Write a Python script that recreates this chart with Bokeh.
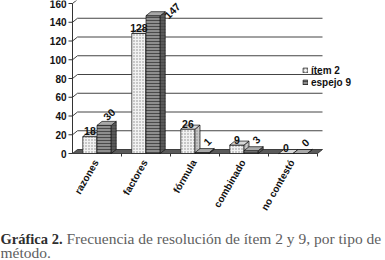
import numpy as np
from bokeh.plotting import figure
from bokeh.models import Range1d, Legend, LegendItem, ColumnDataSource
from bokeh.core.properties import value
from bokeh.embed import file_html
from bokeh.resources import INLINE

categories = ["razones", "factores", "fórmula", "combinado", "no contestó"]
item2 = [18, 128, 26, 9, 0]
espejo9 = [30, 147, 1, 3, 0]
y_ticks = [0, 20, 40, 60, 80, 100, 120, 140, 160]
series_names = ["ítem 2", "espejo 9"]
caption_bold = "Gráfica 2."
caption_line1 = "Frecuencia de resolución de ítem 2 y 9, por tipo de"
caption_line2 = "método."

W, H = 385, 260
ORIG_X, ORIG_Y = 72, 153     # pixel position of the chart origin
PX_X = 49.0                  # px per category
PX_Y = 150 / 160             # px per value unit
DX = 5 / PX_X                # 3-D depth offset
DY = 4 / PX_Y
BW = 0.29
SANS = value("Liberation Sans")
SERIF = value("Liberation Serif")

x0 = -ORIG_X / PX_X
y1 = ORIG_Y / PX_Y
y0 = -(H - ORIG_Y) / PX_Y
p = figure(width=W, height=H, output_backend="svg", toolbar_location=None,
           x_range=Range1d(x0, (W - ORIG_X) / PX_X), y_range=Range1d(y0, y1),
           min_border=0, x_axis_type=None, y_axis_type=None)
p.outline_line_color = None
p.xgrid.visible = False
p.ygrid.visible = False

n = len(categories)
centers = np.arange(n) + 0.5

# back wall grid lines
xs, ys = [], []
for v in y_ticks[1:]:
    xs.append([0, DX, n + DX])
    ys.append([v, v + DY, v + DY])
p.multi_line(xs, ys, line_color="#444", line_width=1)

# floor
p.patch([0, n, n + DX, DX], [0, 0, DY, DY], fill_color="#5a5a5a", line_color="#222", line_width=0.8)

def draw_bars(vals, left, front, hatch, hcol, side, top):
    vals = np.array(vals, dtype=float)
    right = left + BW
    src = ColumnDataSource(dict(left=left, right=right, top=vals, bottom=np.zeros_like(vals)))
    r = p.quad(left="left", right="right", bottom="bottom", top="top", source=src,
               fill_color=front, hatch_pattern=hatch, hatch_color=hcol, hatch_scale=3,
               hatch_weight=1, line_color="#111", line_width=0.7)
    sx = [[ri, ri + DX, ri + DX, ri] for ri in right]
    sy = [[0, DY, v + DY, v] for v in vals]
    p.patches(sx, sy, fill_color=side, hatch_pattern=hatch, hatch_color=hcol, hatch_scale=3,
              line_color="#111", line_width=0.7)
    tx = [[li, ri, ri + DX, li + DX] for li, ri in zip(left, right)]
    ty = [[v, v, v + DY, v + DY] for v in vals]
    p.patches(tx, ty, fill_color=top, line_color="#111", line_width=0.7)
    return r

r1 = draw_bars(item2, centers - BW, "#f2f2f2", "dot", "#8a8a8a", "#c8c8c8", "#d8d8d8")
r2 = draw_bars(espejo9, centers, "#8e8e8e", "horizontal_line", "#4a4a4a", "#5a5a5a", "#a8a8a8")

# value labels
iv = np.array(item2, dtype=float)
p.text(x=centers - BW / 2, y=iv + DY + 1.5 / PX_Y, text=[str(v) for v in item2],
       text_font=SANS, text_font_style="bold", text_font_size="10.5px",
       text_align="center", text_baseline="alphabetic", text_color="#111")
ev = np.array(espejo9, dtype=float)
natural = ev + 11 / PX_Y
over = natural > 152
lab_x = centers + BW / 2 + np.where(over, 19, 5) / PX_X
lab_y = np.where(over, ev + 5 / PX_Y, natural)
p.text(x=lab_x, y=lab_y, text=[str(v) for v in espejo9], angle=np.pi / 4,
       text_font=SANS, text_font_style="bold", text_font_size="10.5px",
       text_align="center", text_baseline="middle", text_color="#111")

# value axis
p.segment(x0=[0], y0=[0], x1=[0], y1=[y_ticks[-1]], line_color="#333", line_width=1)
yt = np.array(y_ticks, dtype=float)
p.segment(x0=np.zeros_like(yt), y0=yt, x1=np.full_like(yt, -4 / PX_X), y1=yt,
          line_color="#333", line_width=1)
p.text(x=np.full_like(yt, -6 / PX_X), y=yt, text=[str(t) for t in y_ticks],
       text_font=SANS, text_font_style="bold", text_font_size="10px",
       text_align="right", text_baseline="middle", text_color="#111")

# category axis
bounds = np.arange(1, n + 1, dtype=float)
p.segment(x0=bounds, y0=np.zeros(n), x1=bounds, y1=np.full(n, -3 / PX_Y),
          line_color="#333", line_width=1)
p.text(x=centers - 1 / PX_X, y=np.full(n, -7 / PX_Y), text=categories, angle=np.pi / 3,
       text_font=SANS, text_font_style="bold", text_font_size="10px",
       text_align="right", text_baseline="middle", text_color="#111")

legend = Legend(items=[LegendItem(label=series_names[0], renderers=[r1]),
                       LegendItem(label=series_names[1], renderers=[r2])],
                location=(302, 172), glyph_width=6, glyph_height=6, label_height=12,
                label_standoff=3, spacing=0, padding=0, margin=0,
                border_line_color=None, background_fill_alpha=0,
                label_text_font="Liberation Sans", label_text_font_style="bold",
                label_text_font_size="10px", label_text_color="#111")
p.add_layout(legend)

# caption
p.text(x=[x0], y=[(ORIG_Y - 238.3) / PX_Y], text=[caption_bold], x_offset=0,
       text_font=SERIF, text_font_style="bold", text_font_size="14.5px",
       text_color="#2e2e2e", text_baseline="alphabetic")
p.text(x=[x0], y=[(ORIG_Y - 238.3) / PX_Y], text=[caption_line1], x_offset=66,
       text_font=SERIF, text_font_size="15.5px",
       text_color="#606060", text_baseline="alphabetic")
p.text(x=[x0], y=[(ORIG_Y - 251.5) / PX_Y], text=[caption_line2], x_offset=0,
       text_font=SERIF, text_font_size="15.5px",
       text_color="#606060", text_baseline="alphabetic")

open("out.html", "w").write(file_html(p, INLINE))
